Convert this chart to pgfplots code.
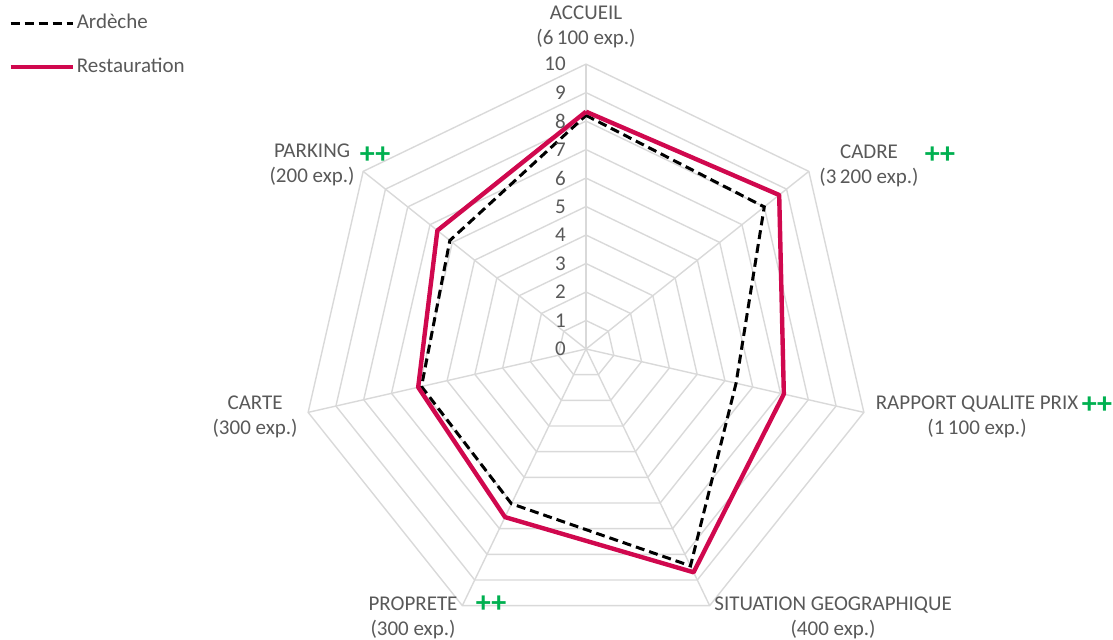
\documentclass[border=0pt]{standalone}
\usepackage{pgfplots}
\usepackage{pgfplotstable}
\pgfplotsset{compat=1.18}
\usepackage{fontspec}
\setmainfont{Carlito}
\definecolor{resto}{RGB}{208,8,78}
\definecolor{gridc}{RGB}{217,217,217}
\definecolor{txt}{RGB}{89,89,89}
\definecolor{plusg}{RGB}{0,176,80}

\pgfplotstableread{
angle ard res
90 8.2 8.33
38.5714 8.0 8.67
-12.8571 5.4 7.12
-64.2857 8.45 8.7
-115.7143 6.03 6.55
-167.1429 5.92 6.04
141.4286 6.11 6.67
90 8.2 8.33
}\data

\begin{document}
\begin{tikzpicture}
\begin{axis}[
  scale only axis, width=556.5pt, height=319.5pt,
  xmin=-20.56, xmax=18.49, ymin=-10.18, ymax=12.25,
  hide axis, clip=false,
  legend style={at={(rel axis cs:0,1)}, anchor=north west, draw=none, fill=none,
    font=\fontsize{10.5}{12.5}\selectfont, text=txt, row sep=9pt,
    inner xsep=4pt, inner ysep=5pt},
  legend cell align=left,
  legend image code/.code={\draw[#1, overlay] (0pt,0pt) -- (31pt,0pt); \path (0pt,-1pt) (30pt,1pt);},
]
\coordinate (bl) at (rel axis cs:0,0);
\coordinate (tr) at (rel axis cs:1,1);
% grid heptagons
\pgfplotsinvokeforeach{1,...,10}{
  \addplot[gridc, line width=0.7pt, data cs=polar, forget plot] coordinates {
    (90,#1) (38.5714,#1) (-12.8571,#1) (-64.2857,#1) (-115.7143,#1) (-167.1429,#1) (141.4286,#1) (90,#1)};
}
% spokes
\pgfplotsinvokeforeach{90,38.5714,-12.8571,-64.2857,-115.7143,-167.1429,141.4286}{
  \addplot[gridc, line width=0.7pt, data cs=polar, forget plot] coordinates {(#1,0) (#1,10)};
}
\addplot[black, line width=1.5pt, dash pattern=on 4.5pt off 2.5pt, data cs=polar] table[x=angle, y=ard] {\data};
\addlegendentry{Ardèche}
\addplot[resto, line width=2.2pt, line join=round, data cs=polar] table[x=angle, y=res] {\data};
\addlegendentry{Restauration}
% radial tick labels
\pgfplotsinvokeforeach{0,...,10}{
  \node[anchor=east, text=txt, font=\fontsize{10.5}{12.5}\selectfont, inner sep=0pt] at (axis cs:-0.7,#1) {#1};
}
% category labels
\tikzset{cat/.style={align=center, text=txt, font=\fontsize{10.5}{12.5}\selectfont, inner sep=0pt},
         pp/.style={text=plusg, font=\fontsize{15}{15}\selectfont\bfseries, inner sep=0pt}}
\node[cat] at (axis cs:0,11.32) {ACCUEIL\\(6\,100 exp.)};
\node[cat] at (axis cs:9.93,6.44) {CADRE\\(3\,200 exp.)};
\node[pp] at (axis cs:12.42,6.81) {++};
\node[cat] at (axis cs:13.72,-2.40) {RAPPORT QUALITE PRIX\\(1\,100 exp.)};
\node[pp] at (axis cs:17.93,-1.96) {++};
\node[cat] at (axis cs:8.67,-9.44) {SITUATION GEOGRAPHIQUE\\(400 exp.)};
\node[cat] at (axis cs:-6.07,-9.44) {PROPRETE\\(300 exp.)};
\node[pp] at (axis cs:-3.33,-8.95) {++};
\node[cat] at (axis cs:-11.61,-2.37) {CARTE\\(300 exp.)};
\node[cat] at (axis cs:-9.61,6.47) {PARKING\\(200 exp.)};
\node[pp] at (axis cs:-7.40,6.81) {++};
\end{axis}
\pgfresetboundingbox
\path (bl) rectangle (tr);
\end{tikzpicture}
\end{document}
